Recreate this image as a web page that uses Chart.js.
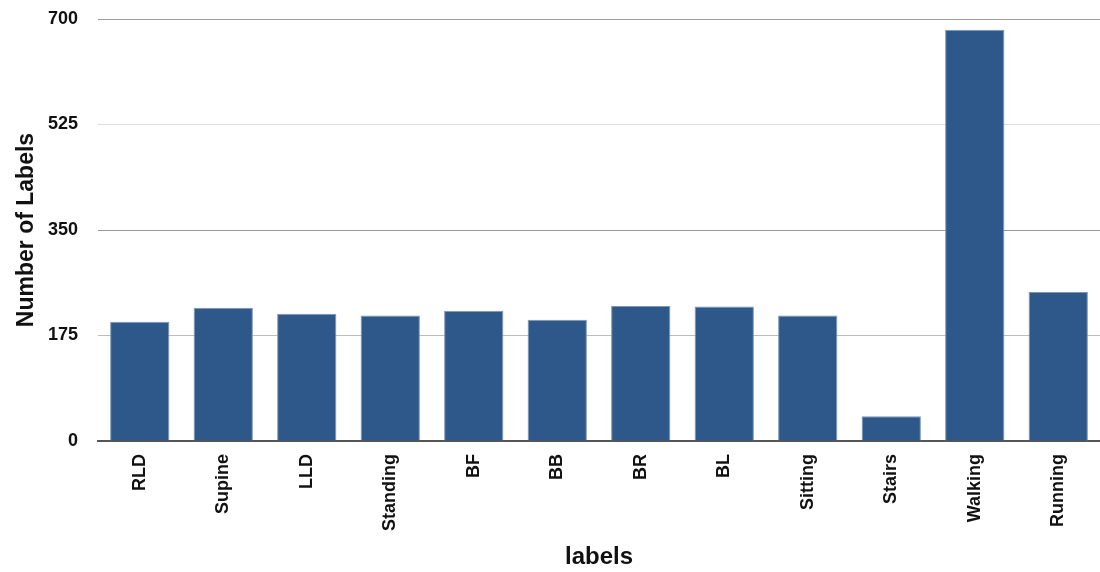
<!DOCTYPE html>
<html>
<head>
<meta charset="utf-8">
<script src="https://cdn.jsdelivr.net/npm/chart.js@4/dist/chart.umd.min.js"></script>
<style>
  html, body { margin: 0; padding: 0; background: #fff; }
  #wrap { width: 1100px; height: 572px; }
</style>
</head>
<body>
<div id="wrap"><canvas id="chartLabels"></canvas></div>
<script>
let categories = ['RLD', 'Supine', 'LLD', 'Standing', 'BF', 'BB', 'BR', 'BL', 'Sitting', 'Stairs', 'Walking', 'Running'];
let labelCounts = [198, 221, 211, 208, 216, 201, 224, 223, 208, 41, 682, 247];
let yTicks = [0, 175, 350, 525, 700];

// gridline shades differ a bit per level in the original
let gridShades = { 0: '#555555', 175: '#bdbdbd', 350: '#9a9a9a', 525: '#dddddd', 700: '#9a9a9a' };

let ctx = document.getElementById('chartLabels').getContext('2d');
Chart.defaults.font.family = '"Liberation Sans", Arial, sans-serif';
Chart.defaults.color = '#111';

let myChart = new Chart(ctx, {
    type: 'bar',
    data: {
        labels: categories,
        datasets: [{
            label: 'Number of Labels',
            data: labelCounts,
            backgroundColor: '#2e5889',
            borderColor: '#7f95b4',
            borderWidth: 1,
            categoryPercentage: 1,
            barPercentage: 0.71
        }]
    },
    options: {
        responsive: true,
        maintainAspectRatio: false,
        animation: false,
        layout: { padding: { top: 19, right: 0, left: 0, bottom: 0 } },
        plugins: {
            legend: { display: false },
            tooltip: { enabled: false }
        },
        scales: {
            x: {
                grid: { display: false, drawTicks: false },
                border: { display: true, color: '#555555', width: 2 },
                ticks: {
                    maxRotation: 90,
                    minRotation: 90,
                    padding: 13,
                    font: { size: 18, weight: 'bold' }
                },
                title: {
                    display: true,
                    text: 'labels',
                    font: { size: 24, weight: 'bold' },
                    padding: { top: 0, bottom: 0 }
                },
                afterFit: function(scale) {
                    scale.height = 131;
                }
            },
            y: {
                min: 0,
                max: 700,
                afterBuildTicks: function(scale) {
                    scale.ticks = yTicks.map(function(v) { return { value: v }; });
                },
                grid: {
                    drawTicks: false,
                    color: function(c) { return gridShades[c.tick.value] || '#cccccc'; }
                },
                border: { display: false },
                ticks: {
                    padding: 20,
                    font: { size: 18, weight: 'bold' }
                },
                title: {
                    display: true,
                    text: 'Number of Labels',
                    font: { size: 23, weight: 'bold' },
                    padding: { top: 13, bottom: 0 }
                },
                afterFit: function(scale) {
                    scale.width = 98;
                    scale.paddingTop = 0;
                    scale.paddingBottom = 0;
                }
            }
        }
    }
});
</script>
</body>
</html>
